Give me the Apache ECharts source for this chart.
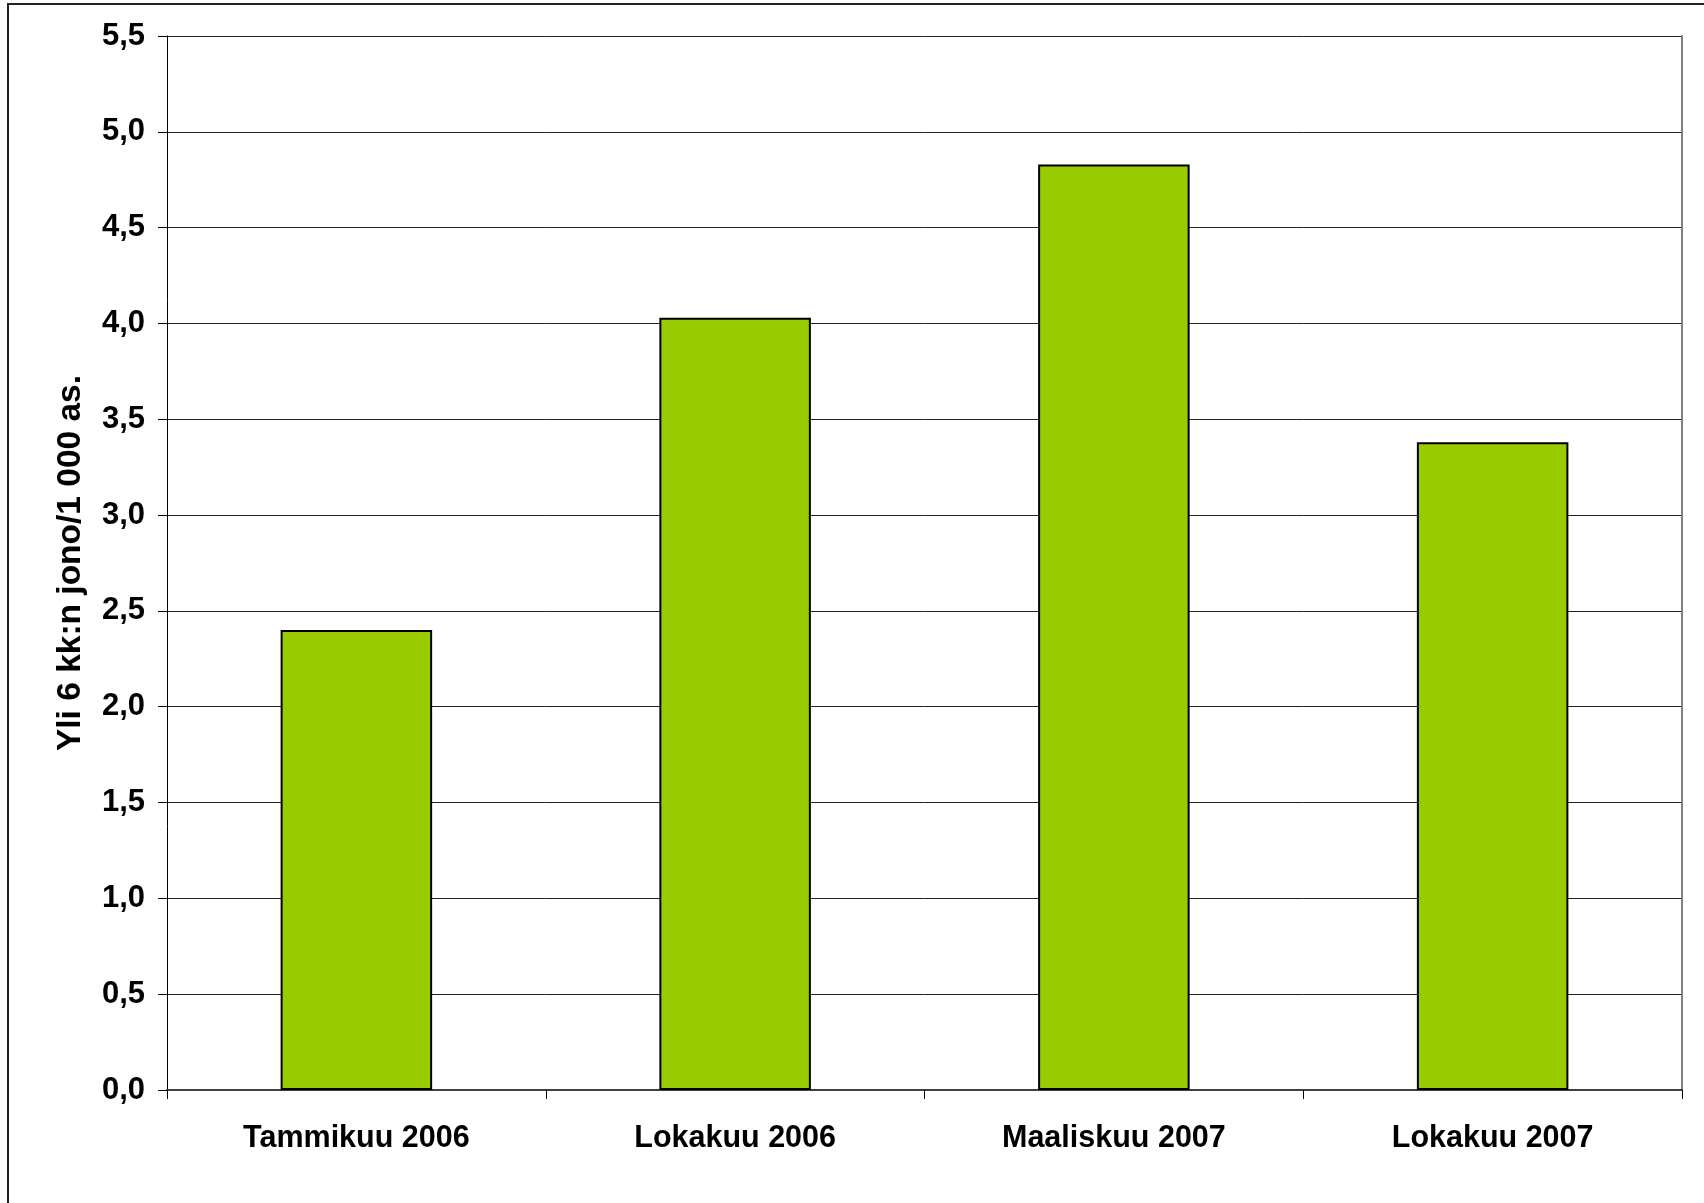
<!DOCTYPE html>
<html>
<head>
<meta charset="utf-8">
<script src="https://cdn.jsdelivr.net/npm/echarts@6/dist/echarts.min.js"></script>
<style>
html,body{margin:0;padding:0;background:#fff;}
#chart{width:1704px;height:1203px;}
</style>
</head>
<body>
<div id="chart"></div>
<script>
const categories = ['Tammikuu 2006', 'Lokakuu 2006', 'Maaliskuu 2007', 'Lokakuu 2007'];
const values = [2.40, 4.03, 4.83, 3.38];
const yAxisTitle = 'Yli 6 kk:n jono/1 000 as.';
const yMin = 0;
const yMax = 5.5;
const yStep = 0.5;

const FONT = '"Liberation Sans", Arial, sans-serif';
const chart = echarts.init(document.getElementById('chart'));
chart.setOption({
  backgroundColor: '#ffffff',
  animation: false,
  graphic: [{
    type: 'rect',
    shape: { x: 8, y: 4, width: 1720, height: 1220 },
    style: { fill: 'none', stroke: '#222', lineWidth: 2 },
    silent: true
  }],
  grid: { left: 167, right: 22, top: 36, bottom: 113 },
  xAxis: {
    type: 'category',
    data: categories,
    boundaryGap: true,
    axisLine: { show: true, lineStyle: { color: '#404040', width: 2 } },
    axisTick: { show: true, length: 9, lineStyle: { color: '#000', width: 1 } },
    axisLabel: { color: '#000', fontFamily: FONT, fontWeight: 'bold', fontSize: 30.5, margin: 33 },
    splitLine: { show: false }
  },
  yAxis: [{
    type: 'value',
    min: yMin,
    max: yMax,
    interval: yStep,
    name: yAxisTitle,
    nameLocation: 'middle',
    nameRotate: 90,
    nameGap: 79,
    nameTextStyle: { color: '#000', fontFamily: FONT, fontWeight: 'bold', fontSize: 33.5 },
    axisLine: { show: true, lineStyle: { color: '#000', width: 1 } },
    axisTick: { show: true, length: 9, lineStyle: { color: '#000', width: 1 } },
    axisLabel: {
      color: '#000', fontFamily: FONT, fontWeight: 'bold', fontSize: 31, margin: 22,
      formatter: v => v.toFixed(1).replace('.', ',')
    },
    splitLine: { show: true, lineStyle: { color: '#222', width: 1 } }
  }, {
    type: 'value',
    position: 'right',
    min: yMin,
    max: yMax,
    interval: yStep,
    axisLine: { show: true, lineStyle: { color: '#808080', width: 2 } },
    axisTick: { show: false },
    axisLabel: { show: false },
    splitLine: { show: false }
  }],
  series: [{
    type: 'bar',
    data: values,
    barWidth: '40%',
    itemStyle: { color: '#99CC00', borderColor: '#000', borderWidth: 2 }
  }]
});
</script>
</body>
</html>
